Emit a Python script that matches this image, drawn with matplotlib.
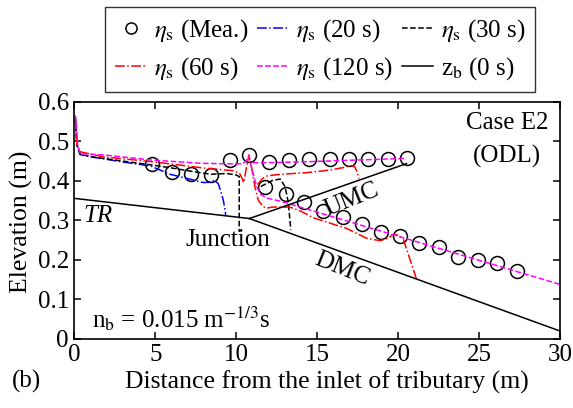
import matplotlib
matplotlib.use('Agg')
import matplotlib.pyplot as plt

plt.rcParams['font.family'] = ['Liberation Serif', 'DejaVu Serif']
plt.rcParams['mathtext.fontset'] = 'stix'
plt.rcParams['font.size'] = 18

# measured water surface (circles)
mea_x = [4.8, 6.0, 7.2, 8.4, 9.6, 10.8, 12.0, 13.25, 14.5, 15.75, 16.95, 18.15, 19.35, 20.5,
         11.75, 13.05, 14.2, 15.35, 16.55, 17.75, 18.92, 20.08, 21.28, 22.48, 23.69, 24.89, 26.1, 27.3]
mea_y = [0.442, 0.422, 0.417, 0.413, 0.451, 0.466, 0.448, 0.452, 0.454, 0.454, 0.454, 0.455, 0.455, 0.456,
         0.384, 0.365, 0.346, 0.324, 0.308, 0.29, 0.27, 0.259, 0.243, 0.231, 0.207, 0.2, 0.192, 0.172]

# t = 20 s
s20_x = [0.05, 0.15, 0.35, 1.0, 1.8, 3.0, 4.7, 5.9, 7.0, 7.95, 8.4, 8.65, 8.88, 9.05, 9.19, 9.3, 9.33]
s20_y = [0.56, 0.49, 0.466, 0.46, 0.455, 0.447, 0.437, 0.416, 0.405, 0.395, 0.396, 0.401, 0.392, 0.37, 0.35, 0.325, 0.313]

# t = 30 s
s30_trib_x = [0.05, 0.15, 0.35, 1.0, 2.5, 4.7, 6.0, 7.3, 8.4, 9.4, 10.0, 10.17, 10.17]
s30_trib_y = [0.56, 0.49, 0.466, 0.461, 0.452, 0.44, 0.432, 0.423, 0.416, 0.418, 0.414, 0.41, 0.27]
s30_dmc_x = [11.5, 12.2, 12.7, 13.0, 13.2, 13.3, 13.35]
s30_dmc_y = [0.385, 0.40, 0.404, 0.385, 0.345, 0.3, 0.276]

# t = 60 s
s60_trib_x = [0.05, 0.15, 0.35, 1.8, 4.77, 7.95, 9.8, 10.2, 10.35, 10.45, 10.6, 10.77, 10.95, 11.14, 11.35,
              11.65, 11.85, 12.2, 12.7, 13.3, 14.0, 14.74, 15.8, 16.8, 18.04, 18.86, 19.37, 19.68, 19.95,
              20.3, 20.46, 20.8, 21.12]
s60_trib_y = [0.555, 0.49, 0.473, 0.46, 0.448, 0.432, 0.425, 0.418, 0.405, 0.395, 0.43, 0.465, 0.43, 0.384, 0.35,
              0.334, 0.33, 0.333, 0.333, 0.333, 0.322, 0.306, 0.292, 0.279, 0.254, 0.248, 0.254, 0.264, 0.262,
              0.252, 0.232, 0.19, 0.15]
s60_umc_x = [11.3, 11.6, 11.9, 12.5, 13.5, 14.3, 15.0, 15.8, 16.6, 17.1, 17.3, 17.45, 17.56]
s60_umc_y = [0.39, 0.405, 0.412, 0.415, 0.418, 0.42, 0.423, 0.427, 0.433, 0.438, 0.435, 0.422, 0.405]

# t = 120 s
s120_x = [0.05, 0.1, 0.2, 0.35, 1.8, 4.77, 7.75, 10.0, 10.4, 10.6, 10.77, 10.95, 11.25, 11.5, 11.86, 12.7, 30]
s120_y = [0.565, 0.55, 0.49, 0.468, 0.465, 0.452, 0.444, 0.442, 0.443, 0.45, 0.462, 0.43, 0.385, 0.365, 0.356, 0.348, 0.137]
s120_umc_x = [11.0, 12.7, 14.5, 20.3, 20.5]
s120_umc_y = [0.445, 0.446, 0.448, 0.456, 0.457]

# initial bed (TR, UMC, DMC)
bed_tr_x, bed_tr_y = [0, 10.8], [0.355, 0.304]
bed_umc_x, bed_umc_y = [10.8, 20.5], [0.304, 0.443]
bed_dmc_x, bed_dmc_y = [10.8, 30], [0.304, 0.019]

fig = plt.figure(figsize=(5.73, 4.08), dpi=100)
ax = fig.add_axes([0.130, 0.170, 0.848, 0.581])

lw = 1.1
h_mea, = ax.plot(mea_x, mea_y, 'o', mfc='none', mec='k', ms=10, mew=1.1, ls='none')
h20, = ax.plot(s20_x, s20_y, color='#0000ff', ls='-.', lw=lw)
h30, = ax.plot(s30_trib_x, s30_trib_y, color='k', ls='--', lw=lw)
ax.plot(s30_dmc_x, s30_dmc_y, color='k', ls='--', lw=lw)
h60, = ax.plot(s60_trib_x, s60_trib_y, color='#ff0000', ls='-.', lw=lw)
ax.plot(s60_umc_x, s60_umc_y, color='#ff0000', ls='-.', lw=lw)
h120, = ax.plot(s120_x, s120_y, color='#ff00ff', ls='--', lw=lw)
ax.plot(s120_umc_x, s120_umc_y, color='#ff00ff', ls='--', lw=lw)
hbed, = ax.plot(bed_tr_x, bed_tr_y, 'k-', lw=lw)
ax.plot(bed_umc_x, bed_umc_y, 'k-', lw=lw)
ax.plot(bed_dmc_x, bed_dmc_y, 'k-', lw=lw)

ax.set_xlim(0, 30)
ax.set_ylim(0, 0.6)
ax.set_xticks([0, 5, 10, 15, 20, 25, 30])
ax.set_yticks([0, 0.1, 0.2, 0.3, 0.4, 0.5, 0.6])
ax.set_yticklabels(['0', '0.1', '0.2', '0.3', '0.4', '0.5', '0.6'])
ax.tick_params(direction='in', top=True, right=True, length=5, width=1.1, pad=4)
for s in ax.spines.values():
    s.set_linewidth(1.2)

ax.set_xlabel('Distance from the inlet of tributary (m)', fontsize=18.5, va='center')
ax.xaxis.set_label_coords(0.52, -0.184)
ax.set_ylabel('Elevation (m)', fontsize=18.5, va='center')
ax.yaxis.set_label_coords(-0.109, 0.494)

ax.text(1.45, 0.31, 'TR', style='italic', ha='center', va='center')
ax.text(9.5, 0.25, 'Junction', ha='center', va='center')
ax.text(17.1, 0.352, 'UMC', ha='center', va='center', rotation=22)
ax.text(16.5, 0.175, 'DMC', ha='center', va='center', rotation=-22)
ax.text(26.7, 0.545, 'Case E2', ha='center', va='center')
ax.text(26.7, 0.46, '(ODL)', ha='center', va='center')
ax.text(1.1, 0.05, r'n$_\mathrm{b}$ = 0.015 m$^{-1/3}$s', ha='left', va='center')
fig.text(0.021, 0.064, '(b)', ha='left', va='center')

handles = [h_mea, h60, h20, h120, h30, hbed]
labels = [r'$\eta_\mathrm{s}$ (Mea.)', r'$\eta_\mathrm{s}$ (60 s)',
          r'$\eta_\mathrm{s}$ (20 s)', r'$\eta_\mathrm{s}$ (120 s)',
          r'$\eta_\mathrm{s}$ (30 s)', r'z$_\mathrm{b}$ (0 s)']
leg = fig.legend(handles, labels, ncol=3, loc='upper center', bbox_to_anchor=(0.559, 0.983),
                 frameon=True, fancybox=False, edgecolor='k', handlelength=1.25,
                 columnspacing=0.35, handletextpad=0.3, borderpad=0.4, labelspacing=0.45,
                 markerscale=0.8, borderaxespad=0)
leg.get_frame().set_linewidth(1.0)

fig.savefig('out.png', dpi=100)
